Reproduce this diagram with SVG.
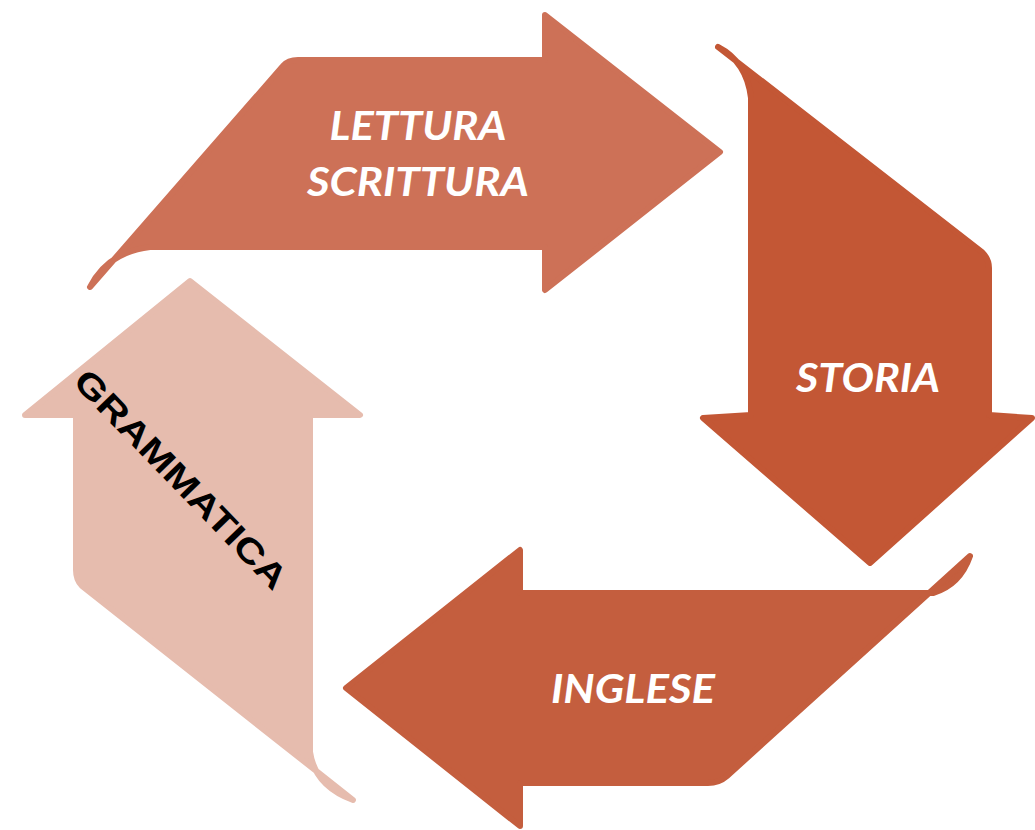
<svg xmlns="http://www.w3.org/2000/svg" width="1035" height="830" viewBox="0 0 1035 830">
<style>
.arr{stroke-linejoin:round;stroke-width:6}
.lbl{font-family:"Lato","Open Sans",sans-serif;font-weight:bold;font-style:italic;fill:#fff;text-anchor:middle}
.dark{font-family:"Liberation Sans",Arial,sans-serif;font-weight:bold;fill:#000;text-anchor:middle}
</style>
<rect width="1035" height="830" fill="#fff"/>
<g id="lettura">
<path class="arr" fill="#CD7157" stroke="#CD7157" d="M545,60 L545,15 L720,152 L545,290 L545,247 L150,247 Q108,252 90,287 L283,66 Q288,60 298,60 Z"/>
<text class="lbl" x="418" y="140" font-size="40" textLength="177" lengthAdjust="spacingAndGlyphs">LETTURA</text>
<text class="lbl" x="418" y="196" font-size="40" textLength="222" lengthAdjust="spacingAndGlyphs">SCRITTURA</text>
</g>
<g id="storia">
<path class="arr" fill="#C35735" stroke="#C35735" d="M751,415 L751,98 Q747,62 718,47 L982,252 Q989,259 989,268 L989,415 L1032,418 L870,563 L703,418 Z"/>
<text class="lbl" x="868" y="392" font-size="40" textLength="144" lengthAdjust="spacingAndGlyphs">STORIA</text>
</g>
<g id="inglese">
<path class="arr" fill="#C45E3E" stroke="#C45E3E" d="M520,593 L933,593 Q960,585 970,556 L727,776 Q719,783 708,783 L520,783 L520,826 L346,688 L520,550 Z"/>
<text class="lbl" x="633" y="703" font-size="40" textLength="164" lengthAdjust="spacingAndGlyphs">INGLESE</text>
</g>
<g id="grammatica">
<path class="arr" fill="#E6BCAE" stroke="#E6BCAE" d="M310,415 L310,752 Q315,786 353,800 L82,586 Q76,580 76,570 L76,415 L25,415 L190,281 L360,415 Z"/>
<text class="dark" transform="translate(181,479) rotate(46)" x="0" y="12" font-size="34" textLength="290" lengthAdjust="spacingAndGlyphs">GRAMMATICA</text>
</g>
<g id="connectors"/>
</svg>
